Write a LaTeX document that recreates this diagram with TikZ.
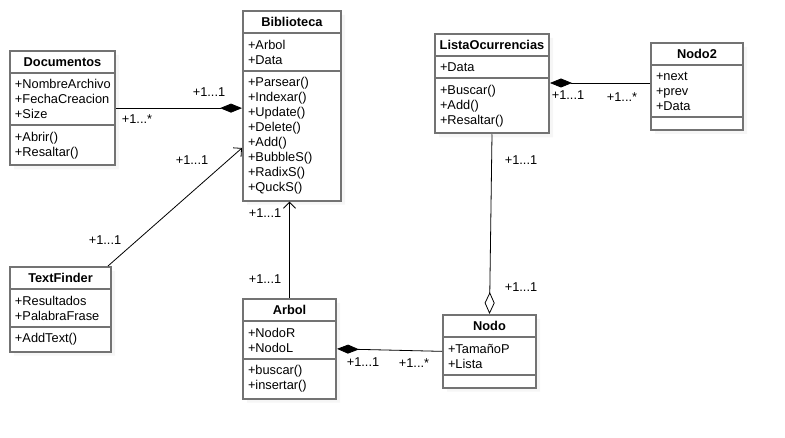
\documentclass[tikz,border=0pt]{standalone}
\usepackage{fontspec}
\setmainfont{Liberation Sans}
\usetikzlibrary{shapes.multipart,arrows.meta,calc,shadows}
\newcommand\umltitle[1]{\makebox[\hsize][c]{\textbf{#1}}}
\begin{document}
\begin{tikzpicture}[x=1pt,y=-1pt,
    umlclass/.style={rectangle split, rectangle split parts=3, draw=black!55, line width=2pt,
        fill=white, anchor=north west, align=left, text width=#1, inner xsep=5pt, inner ysep=5.5pt,
        font=\fontsize{12.8}{15}\selectfont,
        drop shadow={shadow xshift=4pt, shadow yshift=-4pt, fill=black!7, draw=none}},
    mult/.style={font=\fontsize{12.8}{15}\selectfont, inner sep=0pt},
    link/.style={line width=0.8pt, black},
    comp/.style={link, -{Diamond[length=22pt,width=9pt]}},
    aggr/.style={link, -{Diamond[open,length=22pt,width=10pt]}},
    assoc/.style={link, -{Straight Barb[length=6pt,width=12pt]}}]
    \useasboundingbox (0,0) rectangle (785,438);

    % classes
    \node[umlclass=95] (doc) at (9,50) {\umltitle{Documentos}
        \nodepart{two} +NombreArchivo\\+FechaCreacion\\+Size
        \nodepart{three} +Abrir()\\+Resaltar()};
    \node[umlclass=88] (bib) at (242,10) {\umltitle{Biblioteca}
        \nodepart{two} +Arbol\\+Data
        \nodepart{three} +Parsear()\\+Indexar()\\+Update()\\+Delete()\\+Add()\\+BubbleS()\\+RadixS()\\+QuckS()};
    \node[umlclass=104] (lista) at (434,33) {\umltitle{ListaOcurrencias}
        \nodepart{two} +Data
        \nodepart{three} +Buscar()\\+Add()\\+Resaltar()};
    \node[umlclass=82] (nodo2) at (650,42) {\umltitle{Nodo2}
        \nodepart{two} +next\\+prev\\+Data
        \nodepart{three}};
    \node[umlclass=91] (tf) at (9,266) {\umltitle{TextFinder}
        \nodepart{two} +Resultados\\+PalabraFrase
        \nodepart{three} +AddText()};
    \node[umlclass=83] (arbol) at (242,298) {\umltitle{Arbol}
        \nodepart{two} +NodoR\\+NodoL
        \nodepart{three} +buscar()\\+insertar()};
    \node[umlclass=83] (nodo) at (442,314) {\umltitle{Nodo}
        \nodepart{two} +TamañoP\\+Lista
        \nodepart{three}};

    % relations
    \draw[comp] (doc.east) -- (bib.west |- doc.east);
    \draw[assoc] ($(tf.north east)+(-4,0)$) -- ($(bib.north west)+(0,138)$);
    \draw[assoc] (arbol.north) -- (arbol.north |- bib.south);
    \draw[comp] ($(nodo2.north west)+(0,41)$) -- ($(lista.north east)+(0,50)$);
    \draw[aggr] (lista.south) -- (nodo.north);
    \draw[comp] (nodo.west) -- (arbol.east);

    % multiplicities
    \node[mult] (m1) at (209,92) {+1...1};
    \node[mult] (m2) at (137,119) {+1...*};
    \node[mult] (m3) at (192,160) {+1...1};
    \node[mult] (m4) at (105,240) {+1...1};
    \node[mult] (m5) at (265,213) {+1...1};
    \node[mult] (m6) at (265,279) {+1...1};
    \node[mult] (m7) at (568,95) {+1...1};
    \node[mult] (m8) at (622,97) {+1...*};
    \node[mult] (m9) at (521,160) {+1...1};
    \node[mult] (m10) at (521,287) {+1...1};
    \node[mult] (m11) at (363,362) {+1...1};
    \node[mult] (m12) at (414,363) {+1...*};
\end{tikzpicture}
\end{document}
